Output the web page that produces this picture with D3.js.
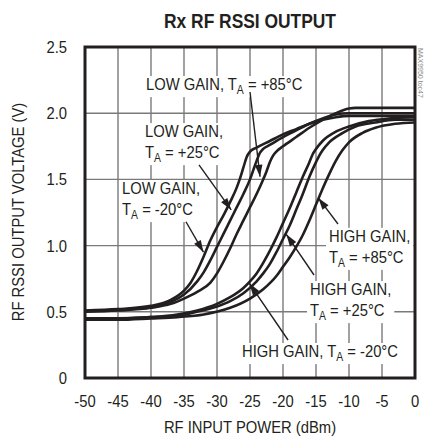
<!DOCTYPE html>
<html>
<head>
<meta charset="utf-8">
<script src="https://cdn.jsdelivr.net/npm/d3@7/dist/d3.min.js"></script>
<style>
  html, body { margin: 0; padding: 0; background: #fff; }
  svg { display: block; }
  text { font-family: "Liberation Sans", Arial, sans-serif; fill: #231f20; }
</style>
</head>
<body>
<svg id="chart" width="424" height="437"></svg>
<script>
// ---------- data ----------
const xTicks = [-50, -45, -40, -35, -30, -25, -20, -15, -10, -5, 0];
const yTicks = [0, 0.5, 1.0, 1.5, 2.0, 2.5];
const yTickLabels = ["0", "0.5", "1.0", "1.5", "2.0", "2.5"];

// RF input power (dBm) vs RSSI output (V)
const lowGainM20 = [[-50,0.51],[-45,0.52],[-40,0.545],[-37,0.59],[-35,0.66],[-34,0.72],[-33,0.81],[-32,0.92],[-31,1.04],[-30,1.14],[-29,1.23],[-28,1.33],[-27,1.44],[-26.5,1.51],[-26,1.59],[-25.5,1.67],[-25,1.71],[-24,1.74],[-22,1.79],[-20,1.84],[-18,1.88],[-16,1.92],[-14,1.95],[-12,1.97],[-10,1.98],[0,1.98]];
const lowGain25 = [[-50,0.505],[-45,0.515],[-40,0.535],[-37,0.575],[-35,0.63],[-33,0.73],[-32,0.80],[-31,0.89],[-30,0.99],[-29,1.09],[-28,1.19],[-27,1.29],[-26,1.39],[-25,1.50],[-24.5,1.57],[-24,1.64],[-23.5,1.70],[-23,1.73],[-22,1.76],[-20,1.82],[-18,1.87],[-16,1.92],[-14,1.96],[-12,1.99],[-10,2.0],[0,2.0]];
const lowGain85 = [[-50,0.50],[-45,0.51],[-40,0.53],[-37,0.56],[-35,0.60],[-33,0.65],[-31,0.72],[-30,0.79],[-29,0.88],[-28,0.98],[-27,1.09],[-26,1.19],[-25,1.29],[-24,1.39],[-23,1.50],[-22.5,1.56],[-22,1.63],[-21.5,1.68],[-21,1.71],[-20,1.75],[-18,1.82],[-16,1.89],[-14,1.95],[-12,2.0],[-10,2.035],[-9,2.04],[0,2.04]];
const highGainM20 = [[-50,0.45],[-45,0.45],[-40,0.46],[-36,0.48],[-33,0.51],[-30,0.56],[-28,0.61],[-26,0.68],[-25,0.73],[-24,0.79],[-23,0.87],[-22,0.96],[-21,1.06],[-20,1.17],[-19,1.28],[-18,1.40],[-17,1.52],[-16,1.63],[-15.5,1.69],[-15,1.73],[-14,1.79],[-12,1.86],[-10,1.90],[-7,1.94],[-4,1.96],[0,1.97]];
const highGain25 = [[-50,0.45],[-45,0.45],[-40,0.46],[-36,0.47],[-33,0.50],[-30,0.54],[-28,0.58],[-26,0.64],[-24,0.73],[-23,0.79],[-22,0.86],[-21,0.95],[-20,1.05],[-19,1.15],[-18,1.27],[-17,1.39],[-16,1.52],[-15,1.63],[-14.5,1.68],[-14,1.72],[-13,1.78],[-11,1.85],[-9,1.90],[-6,1.93],[-3,1.95],[0,1.95]];
const highGain85 = [[-50,0.44],[-45,0.44],[-40,0.45],[-36,0.46],[-32,0.48],[-28,0.53],[-25,0.60],[-23,0.67],[-21,0.77],[-20,0.84],[-19,0.91],[-18,0.99],[-17,1.08],[-16,1.19],[-15,1.31],[-14,1.43],[-13,1.54],[-12,1.64],[-11,1.72],[-10,1.78],[-8,1.85],[-6,1.89],[-3,1.92],[0,1.93]];
const seriesList = [lowGainM20, lowGain25, lowGain85, highGainM20, highGain25, highGain85];

// annotation text (in data coordinates: left x dBm, first-line baseline V)
const labelTexts = [
  [["LOW GAIN, T", "A", " = +85°C"]],
  [["LOW GAIN,"], ["T", "A", " = +25°C"]],
  [["LOW GAIN,"], ["T", "A", " = -20°C"]],
  [["HIGH GAIN,"], ["T", "A", " = +85°C"]],
  [["HIGH GAIN,"], ["T", "A", " = +25°C"]],
  [["HIGH GAIN, T", "A", " = -20°C"]]
];
const labelAnchors = [[-40.76, 2.175], [-40.91, 1.82], [-44.39, 1.39], [-13.03, 1.029], [-15.91, 0.627], [-26.21, 0.159]];
// arrows: [tail dBm, tail V, tip dBm, tip V]
const arrows = [
  [-25.0, 2.16, -23.48, 1.52],
  [-32.73, 1.61, -27.85, 1.27],
  [-34.70, 1.18, -32.05, 0.95],
  [-11.67, 1.163, -14.65, 1.36],
  [-15.30, 0.778, -19.5, 1.085],
  [-19.24, 0.287, -25.1, 0.715]
];

// ---------- drawing ----------
const svg = d3.select("#chart");
const x = d3.scaleLinear().domain([-50, 0]).range([85, 415]);
const y = d3.scaleLinear().domain([0, 2.5]).range([378, 47]);
const SX = 0.87;

function txt(g, px, py, anchor, size, weight) {
  return g.append("text")
    .attr("transform", `translate(${px},${py}) scale(${SX},1)`)
    .attr("text-anchor", anchor)
    .style("font-size", size + "px")
    .style("font-weight", weight || "normal");
}

// gridlines
svg.append("g").selectAll("line.v").data(xTicks.slice(1, -1)).join("line")
  .attr("x1", d => x(d)).attr("x2", d => x(d))
  .attr("y1", y(2.5)).attr("y2", y(0))
  .attr("stroke", "#7a7a7a").attr("stroke-width", 1.4);
svg.append("g").selectAll("line.h").data(yTicks.slice(1, -1)).join("line")
  .attr("x1", x(-50)).attr("x2", x(0))
  .attr("y1", d => y(d)).attr("y2", d => y(d))
  .attr("stroke", "#7a7a7a").attr("stroke-width", 1.4);

// curves
const line = d3.line().x(d => x(d[0])).y(d => y(d[1])).curve(d3.curveMonotoneX);
svg.append("g").selectAll("path").data(seriesList).join("path")
  .attr("d", line).attr("fill", "none")
  .attr("stroke", "#231f20").attr("stroke-width", 2.6)
  .attr("stroke-linejoin", "round");

// labels with white background
labelTexts.forEach((lines, i) => {
  const g = svg.append("g");
  const px = x(labelAnchors[i][0]), py = y(labelAnchors[i][1]);
  lines.forEach((parts, j) => {
    const t = txt(g, px, py + j * 21, "start", 17);
    t.append("tspan").text(parts[0]);
    if (parts.length > 1) {
      t.append("tspan").attr("dy", 4).style("font-size", "12px").text(parts[1]);
      t.append("tspan").attr("dy", -4).text(parts[2]);
    }
  });
  const bb = g.node().getBBox();
  g.insert("rect", ":first-child")
    .attr("x", bb.x - 3).attr("y", bb.y + 1)
    .attr("width", bb.width + 6).attr("height", bb.height)
    .attr("fill", "#fff");
});

// arrows
const defs = svg.append("defs");
defs.append("marker").attr("id", "ah")
  .attr("markerUnits", "userSpaceOnUse")
  .attr("viewBox", "-13 -5 14 10")
  .attr("markerWidth", 14).attr("markerHeight", 10)
  .attr("refX", 0).attr("refY", 0).attr("orient", "auto")
  .append("path").attr("d", "M0,0 L-12,-3.8 L-12,3.8 Z").attr("fill", "#231f20");
svg.append("g").selectAll("line").data(arrows).join("line")
  .attr("x1", d => x(d[0])).attr("y1", d => y(d[1]))
  .attr("x2", d => x(d[2])).attr("y2", d => y(d[3]))
  .attr("stroke", "#231f20").attr("stroke-width", 1.4)
  .attr("marker-end", "url(#ah)");

// frame
svg.append("rect")
  .attr("x", x(-50)).attr("y", y(2.5))
  .attr("width", x(0) - x(-50)).attr("height", y(0) - y(2.5))
  .attr("fill", "none").attr("stroke", "#231f20").attr("stroke-width", 3);

// tick labels
xTicks.forEach(d => { txt(svg, x(d), 407, "middle", 17).text(d); });
yTicks.forEach((d, i) => { txt(svg, 67, y(d) + 6, "end", 17).text(yTickLabels[i]); });

// titles
txt(svg, 250, 28, "middle", 20, "bold").text("Rx RF RSSI OUTPUT");
txt(svg, 250, 433, "middle", 17).text("RF INPUT POWER (dBm)");
svg.append("text")
  .attr("transform", `translate(24,212) rotate(-90) scale(${SX},1)`)
  .attr("text-anchor", "middle").style("font-size", "17px")
  .text("RF RSSI OUTPUT VOLTAGE (V)");

// figure id
svg.append("text")
  .attr("transform", "translate(418,48) rotate(90)")
  .attr("text-anchor", "start").style("font-size", "7px").style("fill", "#888")
  .text("MAX9950 toc47");
</script>
</body>
</html>
